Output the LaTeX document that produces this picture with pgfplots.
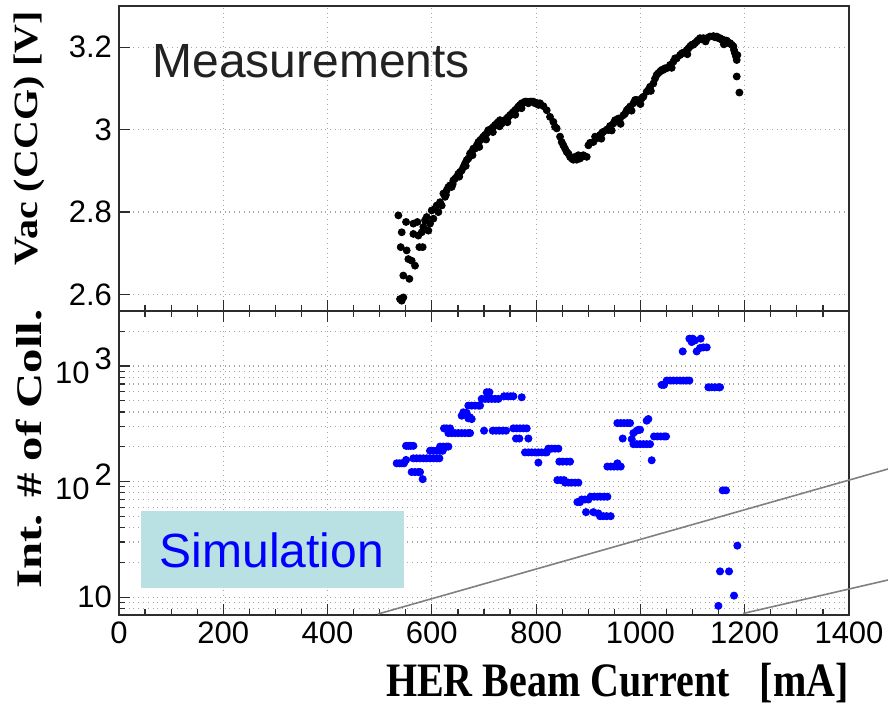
\documentclass[border=0pt]{standalone}
\usepackage{pgfplots}
\pgfplotsset{compat=1.18}
\usepackage{fontspec}
\usepackage{graphicx}
\setmainfont{Liberation Sans}
\newfontfamily\tnr{Liberation Serif}

\definecolor{gridc}{RGB}{165,165,165}
\definecolor{boxc}{RGB}{185,224,226}
\definecolor{linec}{RGB}{128,128,128}
\definecolor{axc}{RGB}{45,45,45}
\definecolor{meas}{RGB}{34,34,34}

\pgfplotsset{
 panel/.style={
  scale only axis, width=365pt, xmin=0, xmax=1400,
  axis line style={axc, line width=1pt},
  tick style={axc, line width=0.6pt},
  tick align=inside,
  major tick length=5.5pt, minor tick length=3pt,
  xtick={0,200,...,1400}, minor x tick num=3,
  xmajorgrids=true, ymajorgrids=true,
  major grid style={gridc, dotted, line width=0.6pt},
  minor grid style={gridc, dotted, line width=0.6pt},
  ytick pos=left,
  tick label style={font=\fontsize{15.5}{17}\selectfont},
  /pgf/number format/assume math mode=true,
  /pgf/number format/1000 sep={},
 }
}

\begin{document}
\begin{tikzpicture}
\useasboundingbox (-59.5pt,-46pt) rectangle (384.5pt,307.5pt);

% ---------- top panel: measurements ----------
\begin{axis}[panel, at={(0pt,152pt)}, anchor=south west, height=152.5pt,
  ymin=2.56, ymax=3.30, ytick={2.6,2.8,3,3.2}, yticklabels={2.6,2.8,3,3.2},
  xticklabels={}, xtick pos=bottom]
\addplot[only marks, mark=*, mark size=1.75pt, black] table {
x y
535.8 2.792
542.2 2.751
540.2 2.715
550.5 2.776
551.7 2.707
554.9 2.686
561.3 2.682
567.7 2.670
545.3 2.646
556.9 2.638
539.0 2.589
545.3 2.593
542.2 2.585
564.5 2.772
572.2 2.776
564.5 2.747
574.1 2.743
576.0 2.715
582.4 2.715
580.5 2.751
583.7 2.764
586.9 2.780
590.1 2.788
593.3 2.755
596.5 2.772
599.7 2.804
602.9 2.784
606.1 2.808
609.3 2.816
612.5 2.800
615.7 2.824
618.9 2.816
622.1 2.845
625.3 2.837
628.5 2.853
631.7 2.861
634.9 2.865
638.1 2.861
641.2 2.877
644.4 2.881
647.6 2.885
650.8 2.893
654.0 2.897
657.2 2.901
660.4 2.909
663.6 2.918
666.8 2.926
670.0 2.930
673.2 2.942
676.4 2.946
679.6 2.954
682.8 2.954
686.0 2.962
689.2 2.970
692.4 2.974
695.6 2.978
698.8 2.983
702.0 2.987
705.2 2.991
708.4 2.999
711.6 2.999
714.8 3.003
718.0 3.007
721.2 3.011
724.4 3.015
727.6 3.019
730.7 3.023
733.9 3.015
737.1 3.019
740.3 3.023
743.5 3.027
746.7 3.031
749.9 3.035
753.1 3.039
756.3 3.043
759.5 3.047
762.7 3.051
765.9 3.056
769.1 3.060
772.3 3.064
775.5 3.065
778.7 3.068
781.9 3.068
785.1 3.064
788.3 3.068
791.5 3.068
794.7 3.068
797.9 3.064
801.1 3.065
804.3 3.060
807.5 3.064
813.9 3.057
820.3 3.047
826.6 3.031
833.0 3.019
836.2 3.007
839.4 3.003
845.8 2.983
849.0 2.970
852.2 2.962
855.4 2.954
858.6 2.946
861.8 2.942
865.0 2.934
868.2 2.930
871.4 2.927
874.6 2.934
877.8 2.927
881.0 2.938
884.2 2.930
887.4 2.934
890.6 2.938
897.0 2.934
900.2 2.962
903.4 2.968
909.8 2.970
913.0 2.983
916.1 2.979
922.5 2.987
925.7 2.991
928.9 2.995
935.3 3.000
938.5 2.999
941.7 3.009
948.1 3.015
951.3 3.023
954.5 3.023
957.7 3.027
960.9 3.027
967.3 3.035
970.5 3.039
973.7 3.047
976.9 3.051
980.1 3.056
986.5 3.064
989.7 3.072
992.9 3.072
999.3 3.072
1002.5 3.076
1005.7 3.080
1012.0 3.092
1015.2 3.096
1018.4 3.104
1024.8 3.112
1028.0 3.124
1031.2 3.133
1034.4 3.137
1037.6 3.141
1040.8 3.145
1044.0 3.145
1047.2 3.149
1050.4 3.149
1056.8 3.157
1063.2 3.165
1066.4 3.173
1069.6 3.173
1076.0 3.181
1079.2 3.185
1082.4 3.187
1088.8 3.193
1092.0 3.197
1095.2 3.202
1098.4 3.206
1101.5 3.206
1104.7 3.210
1107.9 3.214
1111.1 3.218
1114.3 3.222
1117.5 3.219
1120.7 3.222
1127.1 3.222
1133.5 3.226
1139.9 3.227
1143.1 3.224
1146.3 3.226
1149.5 3.222
1152.7 3.222
1155.9 3.218
1159.1 3.218
1162.3 3.214
1165.5 3.216
1168.7 3.210
1171.9 3.210
1175.1 3.206
1178.3 3.202
1179.5 3.193
1181.4 3.185
1183.4 3.177
1184.7 3.169
1185.9 3.181
1184.7 3.129
1189.8 3.090
627.0 2.842
640.0 2.868
652.5 2.886
665.0 2.912
678.0 2.938
691.0 2.958
704.0 2.976
717.0 2.994
730.0 3.008
745.0 3.018
760.0 3.036
772.0 3.052
925.0 2.978
945.0 2.998
962.0 3.014
983.0 3.046
1000.0 3.062
1020.0 3.094
1060.0 3.150
1090.0 3.183
1125.0 3.214
1160.0 3.207
};
\end{axis}

% ---------- bottom panel: simulation ----------
\begin{axis}[panel, at={(0pt,0pt)}, anchor=south west, height=152pt,
  ymode=log, ymin=7, ymax=3000,
  ytick={10,100,1000},
  yticklabels={10, {10\,\raisebox{0.45em}{2}}, {10\,\raisebox{0.45em}{3}}},
  minor ytick={8,9,20,30,40,50,60,70,80,90,200,300,400,500,600,700,800,900,2000,3000},
  yminorgrids=true,
  xtick pos=both, xticklabel pos=bottom]
\addplot[only marks, mark=*, mark size=1.8pt, color=blue, mark options={fill=blue, draw=blue}] table {
x y
532.6 144
537.7 144
542.2 144
546.6 144
550.5 154
550.5 204
555.0 204
559.4 204
564.5 204
564.5 159
570.9 159
577.3 159
583.7 159
590.1 159
596.5 159
602.9 159
609.3 159
614.4 159
561.3 121
567.7 121
574.1 121
577.3 121
582.4 105
596.5 185
602.9 185
609.3 185
615.7 185
620.8 185
615.7 201
622.1 201
628.5 201
631.7 201
623.3 289
628.5 289
634.9 289
631.7 263
638.1 263
644.4 263
650.8 263
657.2 263
663.6 263
670.0 263
673.2 263
660.4 398
666.8 392
657.2 372
673.2 360
670.0 353
676.4 348
670.0 455
676.4 455
682.8 455
689.2 455
692.4 455
695.6 520
702.0 520
708.4 520
714.8 520
721.2 520
727.6 520
705.2 594
710.3 594
700.1 276
716.7 276
723.1 276
729.5 276
735.9 276
742.3 276
738.4 548
744.8 548
751.2 548
756.3 548
772.3 537
756.3 289
762.7 289
769.1 289
775.5 289
781.9 289
761.4 236
767.8 236
785.1 236
778.7 179
785.1 179
791.5 179
797.9 179
804.3 179
810.7 179
817.1 179
820.3 179
804.3 146
823.4 193
829.8 193
836.2 193
842.6 193
844.5 149
850.9 149
858.6 149
865.0 149
840.7 103
847.1 103
853.5 103
855.4 98
861.8 98
868.2 98
874.6 98
881.0 98
879.1 66.5
884.2 66.5
887.4 70
893.8 70
900.2 70
904.6 74
911.0 74
917.4 74
923.8 74
930.2 74
936.6 74
895.7 54.4
909.8 54.4
919.3 53.0
922.5 50.2
928.9 50.2
935.3 50.2
943.0 50.2
936.6 135
943.0 135
949.4 135
955.8 135
962.2 135
955.8 144
955.8 321
962.2 321
968.6 321
975.0 321
980.1 321
966.0 236
986.5 263
992.9 276
996.1 281
999.3 281
983.3 233
986.5 211
992.9 211
999.3 211
1005.6 211
1012.0 211
1018.4 211
1012.0 337
1015.2 348
1026.1 246
1032.5 246
1038.9 246
1045.3 246
1049.1 246
1021.6 153
1040.8 688
1045.3 688
1050.4 750
1056.8 750
1063.2 750
1069.6 750
1076.0 750
1082.4 750
1088.8 750
1093.9 750
1081.1 1340
1093.9 1728
1100.3 1728
1098.3 1616
1104.7 1671
1115.6 1728
1107.9 1340
1114.3 1433
1120.7 1452
1127.1 1452
1130.3 656
1136.7 656
1143.1 656
1149.5 656
1152.7 656
1157.8 84
1164.0 84
1185.9 27.9
1152.7 16.7
1169.9 16.7
1179.5 10.3
1149.5 8.4
};
\end{axis}

% ---------- annotations ----------
\node[anchor=base west, text=meas, font=\fontsize{24}{28}\selectfont, inner sep=0pt] at (16.5pt,268.5pt) {Measurements};
\fill[boxc] (11pt,13.5pt) rectangle (142.5pt,52pt);
\node[text=blue, font=\fontsize{24}{28}\selectfont, inner sep=0pt] at (76.5pt,32.5pt) {Simulation};
\draw[linec, line width=0.8pt] (129.5pt,0.5pt) -- (384.5pt,73pt);
\draw[linec, line width=0.8pt] (312pt,0.75pt) -- (384.5pt,17.5pt);

% axis titles
\node[anchor=east, inner sep=0pt, font=\tnr\bfseries\fontsize{20}{22}\selectfont] at (365pt,-34pt) {\scalebox{1}[1.2]{HER Beam Current \ \ [mA]}};
\node[rotate=90, inner sep=0pt, font=\tnr\bfseries\fontsize{20}{22}\selectfont] at (-45pt,238.5pt) {\scalebox{1.0}[0.85]{Vac (CCG) [V]}};
\node[rotate=90, inner sep=0pt, font=\tnr\bfseries\fontsize{20}{22}\selectfont] at (-45pt,83pt) {\scalebox{1.22}[0.9]{Int. \# of Coll.}};
\end{tikzpicture}
\end{document}
